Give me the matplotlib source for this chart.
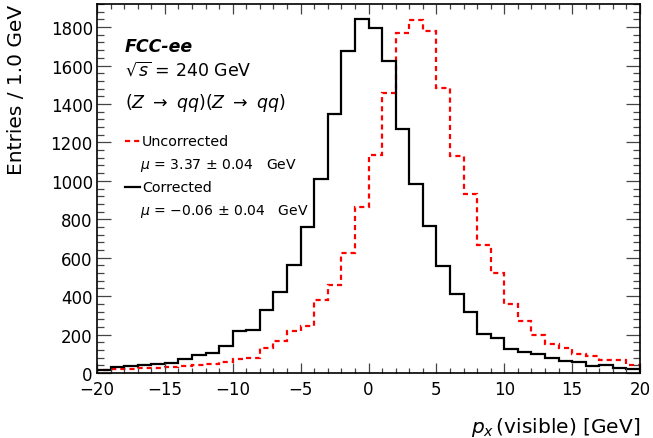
import numpy as np
import matplotlib.pyplot as plt
from matplotlib.ticker import MultipleLocator

plt.rcParams['font.family'] = ['DejaVu Sans']
plt.rcParams['mathtext.fontset'] = 'dejavusans'

# bin edges: 40 bins of 1 GeV from -20 to 20
edges = np.arange(-20, 21, 1)

# corrected p_x (visible), entries per bin
corrected = [17, 33, 36, 40, 45, 52, 75, 92, 106, 138,
             216, 226, 329, 421, 562, 762, 1012, 1350, 1673, 1840,
             1796, 1623, 1268, 986, 765, 557, 412, 317, 204, 182,
             125, 109, 99, 78, 61, 55, 38, 40, 26, 22]

# uncorrected p_x (visible), entries per bin
uncorrected = [14, 20, 22, 24, 26, 32, 35, 40, 45, 55,
               75, 80, 130, 165, 220, 246, 381, 459, 623, 866,
               1135, 1457, 1769, 1835, 1777, 1483, 1128, 929, 666, 519,
               358, 272, 199, 150, 130, 99, 87, 66, 69, 43]

fig = plt.figure(figsize=(6.53, 4.39), dpi=100)
ax = fig.add_axes([97/653, 65/439, 543/653, 369/439])

ax.stairs(uncorrected, edges, color='#ff0000', lw=1.6, linestyle=(0, (2.3, 1.8)))
ax.stairs(corrected, edges, color='black', lw=1.6)

ax.set_xlim(-20, 20)
ax.set_ylim(0, 1920)

ax.xaxis.set_major_locator(MultipleLocator(5))
ax.xaxis.set_minor_locator(MultipleLocator(1))
ax.yaxis.set_major_locator(MultipleLocator(200))
ax.yaxis.set_minor_locator(MultipleLocator(40))
ax.tick_params(which='both', direction='in', top=True, right=True, labelsize=12, width=0.9, color='#444444')
ax.tick_params(axis='x', which='major', length=7.5, pad=5)
ax.tick_params(axis='x', which='minor', length=3.8)
ax.tick_params(axis='y', which='major', length=10, pad=3)
ax.tick_params(axis='y', which='minor', length=5)
for s in ax.spines.values():
    s.set_linewidth(1.2)

ax.set_ylabel('Entries / 1.0 GeV', fontsize=14.5, loc='top')
ax.yaxis.set_label_coords(-0.131, 1.0)
ax.set_xlabel(r'$p_x\,$(visible) [GeV]', fontsize=14.5, loc='right', labelpad=12)

ax.text(0.0516, 0.911, 'FCC-ee', transform=ax.transAxes, fontsize=12.5,
        fontweight='bold', fontstyle='italic', va='top')
ax.text(0.0516, 0.824, r'$\sqrt{s}$ = 240 GeV', transform=ax.transAxes, fontsize=12.5, va='center')
ax.text(0.0516, 0.734, r'$(Z\ \rightarrow\ qq)(Z\ \rightarrow\ qq)$', transform=ax.transAxes,
        fontsize=12.5, va='center')

# legend-like annotations
ax.plot([0.0516, 0.080], [0.628, 0.628], transform=ax.transAxes, color='#ff0000', lw=1.6,
        linestyle=(0, (2.3, 1.8)))
ax.text(0.0825, 0.628, 'Uncorrected', transform=ax.transAxes, fontsize=10.3, va='center')
ax.text(0.0790, 0.566, r'$\mu$ = 3.37 $\pm$ 0.04   GeV', transform=ax.transAxes, fontsize=10.1, va='center')
ax.plot([0.0516, 0.080], [0.503, 0.503], transform=ax.transAxes, color='black', lw=1.6)
ax.text(0.0825, 0.503, 'Corrected', transform=ax.transAxes, fontsize=10.3, va='center')
ax.text(0.0790, 0.440, r'$\mu$ = $-$0.06 $\pm$ 0.04   GeV', transform=ax.transAxes, fontsize=10.1, va='center')

fig.savefig('out.png', dpi=100)
